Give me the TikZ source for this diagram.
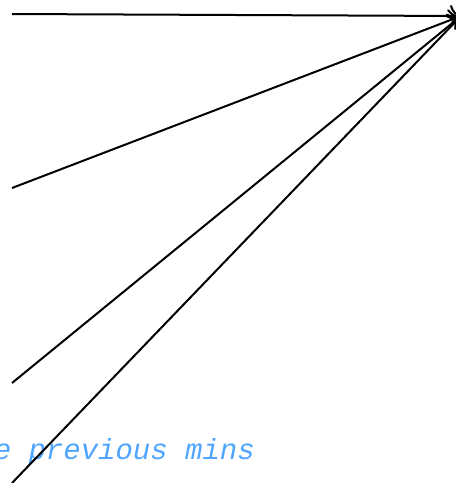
\documentclass[tikz,border=0pt]{standalone}
\usepackage{fontspec}
\newfontfamily\monofont{Liberation Mono}
\usetikzlibrary{arrows.meta}
\definecolor{noteblue}{RGB}{80,165,255}
\begin{document}
\begin{tikzpicture}[x=1pt,y=-1pt,
  conn/.style={line width=2pt,-{To[length=11pt,width=22pt,line width=2pt]}},
  note/.style={font=\monofont\itshape\fontsize{29}{30}\selectfont,text=noteblue,inner sep=0pt,anchor=base east}]
\useasboundingbox (0,0) rectangle (456,483);
\coordinate (t) at (461,16);
\coordinate (a) at (12,14);
\coordinate (b) at (12,188);
\coordinate (c) at (12,383);
\coordinate (d) at (12,483);
\node[note] (n) at (255,459) {e previous mins};
\draw[conn] (a) -- (t);
\draw[conn] (b) -- (t);
\draw[conn] (c) -- (t);
\draw[conn] (d) -- (t);
\end{tikzpicture}
\end{document}
